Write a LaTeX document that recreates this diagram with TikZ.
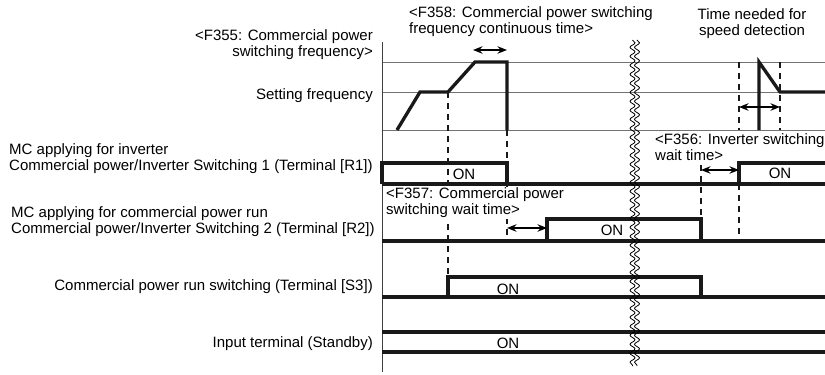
\documentclass[tikz,border=0pt]{standalone}
\usepackage{fontspec}
\setmainfont{Liberation Sans}
\usetikzlibrary{decorations.pathmorphing, arrows.meta}
\begin{document}
\begin{tikzpicture}[x=1pt,y=-1pt,
  gridline/.style={line width=1pt, draw=black!55},
  axisline/.style={line width=1pt, draw=black!75},
  sig/.style={line width=3.3pt, draw=black!90},
  dsh/.style={line width=1.9pt, draw=black!90, dash pattern=on 6pt off 5pt},
  dim/.style={line width=1.4pt, {Stealth[length=9.5pt,width=7.5pt]}-{Stealth[length=9.5pt,width=7.5pt]}},
  wavy/.style={line width=0.8pt, decorate, decoration={snake, amplitude=2.5pt, segment length=9pt}},
  lbl/.style={font=\fontsize{15}{16}\selectfont, inner sep=0pt, text=black},
  masked/.style={lbl, fill=white, inner sep=1pt}
]
\useasboundingbox (0,0) rectangle (825,375);

% frequency grid lines
\draw[gridline] (382,62) -- (825,62);
\draw[gridline] (382,92) -- (825,92);
\draw[gridline] (382,130) -- (825,130);
% time axis
\draw[axisline] (382,42) -- (382,372);

% dashed guide lines
\draw[dsh] (448,92) -- (448,277);
\draw[dsh] (507,130) -- (507,241);
\draw[dsh] (701,165) -- (701,241);
\draw[dsh] (739,62) -- (739,130);
\draw[dsh] (739,184) -- (739,236);
\draw[dsh] (780,62) -- (780,130);

% labels that hide the guide lines behind them
\node[masked, anchor=west, align=left] (f356) at (654,147) {<F356: Inverter switching\\wait time>};
\node[masked, anchor=west, align=left] (f357) at (385,203) {<F357: Commercial power\\switching wait time>};

% frequency curve
\draw[sig] (397,130) -- (420,92) -- (448,92) -- (475,62) -- (507,62) -- (507,130);
\draw[sig] (759,130) -- (759,62) -- (780,92) -- (825,92);

% R1
\draw[sig] (382,184) -- (825,184);
\draw[sig] (382,184) -- (382,163) -- (507,163) -- (507,184);
\draw[sig] (739,184) -- (739,163) -- (825,163);
% R2
\draw[sig] (382,241) -- (825,241);
\draw[sig] (547,241) -- (547,219) -- (701,219) -- (701,241);
% S3
\draw[sig] (382,297) -- (825,297);
\draw[sig] (448,297) -- (448,277) -- (701,277) -- (701,297);
% Input terminal
\draw[sig] (382,332) -- (825,332);
\draw[sig] (382,352) -- (825,352);

% dimension arrows
\coordinate (a1) at (473,50);  \coordinate (b1) at (507,50);
\coordinate (a2) at (507,228); \coordinate (b2) at (547,228);
\coordinate (a3) at (701,170); \coordinate (b3) at (739,170);
\coordinate (a4) at (739,107); \coordinate (b4) at (780,107);
\draw[dim] (a1) -- (b1);
\draw[dim] (a2) -- (b2);
\draw[dim] (a3) -- (b3);
\draw[dim] (a4) -- (b4);

% break mark
\draw[wavy] (632.5,40) -- (632.5,366);
\draw[wavy] (637,40) -- (637,366);

% labels
\node[lbl, anchor=east, align=right] (f355) at (373,45) {<F355: Commercial power\\switching frequency>};
\node[lbl, anchor=east] (setf) at (373,96) {Setting frequency};
\node[lbl, anchor=west, align=left] (r1) at (9,159) {MC applying for inverter\\Commercial power/Inverter Switching 1 (Terminal [R1])};
\node[lbl, anchor=west, align=left] (r2) at (11,222) {MC applying for commercial power run\\Commercial power/Inverter Switching 2 (Terminal [R2])};
\node[lbl, anchor=east] (s3) at (373,287) {Commercial power run switching (Terminal [S3])};
\node[lbl, anchor=east] (inp) at (373,344) {Input terminal (Standby)};

\node[lbl, anchor=west, align=left] (f358) at (409,22) {<F358: Commercial power switching\\frequency continuous time>};
\node[lbl, align=center] (spd) at (752,24) {Time needed for\\speed detection};

\node[lbl] (on1) at (464,174) {ON};
\node[lbl] (on2) at (780,173) {ON};
\node[lbl] (on3) at (612,230) {ON};
\node[lbl] (on4) at (508,289) {ON};
\node[lbl] (on5) at (508,343) {ON};
\end{tikzpicture}
\end{document}
